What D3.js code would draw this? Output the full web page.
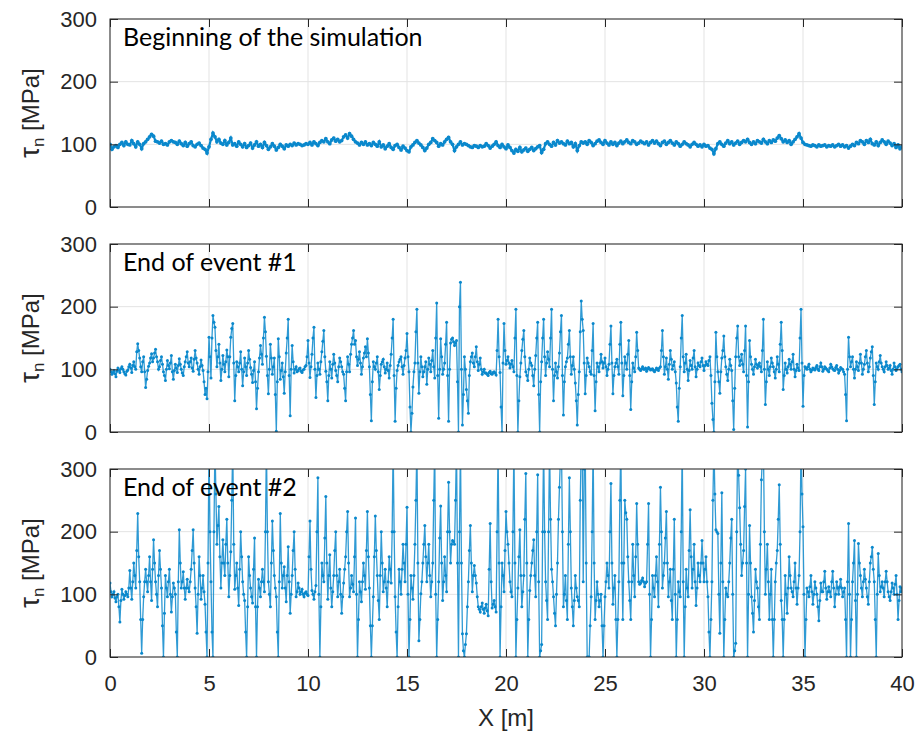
<!DOCTYPE html>
<html>
<head>
<meta charset="utf-8">
<script src="https://cdn.jsdelivr.net/npm/d3@7"></script>
<style>
  body { margin: 0; background: #fff; }
</style>
</head>
<body>
<script>
// shear stress along the fault, 0 to 40 m
// beginning: one value every 0.1 m
let start = [
  100, 92, 96, 98, 95, 100, 103, 98, 104, 100,
  99, 106, 101, 96, 104, 100, 93, 101, 104, 108,
  112, 116, 113, 105, 104, 102, 105, 100, 101, 99,
  104, 106, 104, 103, 100, 105, 101, 98, 103, 97,
  101, 104, 98, 96, 100, 102, 98, 94, 92, 86,
  96, 108, 118, 112, 104, 108, 102, 100, 106, 99,
  103, 110, 99, 101, 97, 104, 100, 96, 101, 95,
  98, 102, 94, 99, 104, 97, 100, 95, 103, 98,
  92, 96, 101, 97, 91, 95, 100, 97, 93, 99,
  97, 100, 98, 102, 99, 101, 100, 98, 99, 101,
  100, 103, 99, 104, 101, 98, 103, 106, 104, 109,
  104, 101, 107, 110, 105, 108, 104, 106, 112, 115,
  110, 117, 113, 108, 104, 102, 99, 103, 100, 104,
  99, 101, 98, 103, 100, 97, 104, 96, 99, 93,
  97, 101, 95, 92, 98, 100, 95, 91, 97, 94,
  90, 88, 96, 99, 103, 106, 102, 99, 95, 90,
  94, 100, 103, 109, 106, 103, 97, 101, 99, 104,
  108, 111, 104, 100, 90, 96, 100, 104, 99, 101,
  100, 98, 96, 95, 98, 97, 95, 98, 96, 97,
  101, 98, 94, 97, 100, 104, 98, 95, 100, 96,
  93, 99, 95, 90, 86, 92, 89, 95, 88, 91,
  94, 89, 92, 95, 90, 93, 96, 98, 87, 92,
  101, 104, 100, 97, 103, 99, 106, 102, 104, 101,
  99, 105, 101, 103, 96, 101, 90, 98, 104, 102,
  104, 100, 106, 103, 98, 101, 105, 107, 103, 100,
  106, 102, 99, 104, 100, 103, 98, 102, 105, 101,
  104, 107, 103, 101, 106, 104, 100, 102, 105, 103,
  101, 104, 99, 103, 106, 102, 105, 101, 98, 103,
  105, 100, 103, 106, 102, 99, 104, 101, 97, 100,
  104, 101, 99, 96, 100, 103, 100, 97, 99, 96,
  100, 97, 98, 94, 92, 85, 93, 101, 104, 100,
  97, 102, 106, 101, 104, 99, 102, 105, 100, 103,
  106, 104, 108, 103, 100, 104, 101, 106, 104, 102,
  108, 104, 101, 106, 103, 107, 105, 110, 114, 109,
  104, 107, 103, 106, 100, 104, 108, 112, 117, 110,
  103, 100, 99, 98, 97, 99, 98, 96, 99, 97,
  98, 99, 96, 98, 97, 99, 96, 98, 100, 97,
  99, 96, 98, 94, 97, 100, 98, 103, 101, 106,
  104, 100, 106, 103, 108, 101, 99, 104, 98, 103,
  107, 104, 100, 105, 102, 98, 101, 95, 99, 93,
  97
];

// end of event #1: one value every 0.05 m
let event1 = [
  100, 96, 92, 95, 98, 93, 88, 97, 102, 99, 95, 101, 104, 100, 96, 93, 91, 97, 99, 104,
  108, 102, 95, 106, 112, 104, 100, 128, 141, 130, 118, 104, 96, 112, 120, 96, 71, 84, 98, 105,
  110, 118, 125, 112, 118, 126, 132, 120, 112, 100, 104, 114, 120, 108, 96, 90, 82, 100, 114, 106,
  101, 110, 122, 96, 84, 98, 108, 102, 95, 106, 117, 108, 100, 94, 90, 104, 112, 120, 128, 110,
  104, 112, 118, 102, 97, 116, 130, 118, 110, 100, 92, 104, 115, 106, 98, 80, 60, 70, 53, 96,
  151, 120, 86, 150, 186, 175, 167, 130, 104, 120, 140, 110, 82, 100, 122, 108, 96, 112, 131, 120,
  88, 120, 151, 165, 173, 110, 50, 90, 112, 104, 96, 110, 128, 100, 74, 96, 118, 104, 90, 110,
  130, 116, 103, 92, 79, 98, 112, 80, 37, 70, 96, 118, 138, 124, 108, 150, 183, 160, 121, 90,
  61, 100, 140, 118, 92, 104, 118, 60, 1, 80, 149, 120, 84, 98, 110, 88, 62, 96, 126, 150,
  180, 90, 26, 100, 138, 112, 94, 100, 104, 96, 98, 101, 102, 97, 95, 99, 100, 104, 106, 120,
  146, 110, 87, 104, 124, 150, 167, 100, 55, 90, 110, 100, 92, 112, 128, 145, 162, 120, 97, 80,
  50, 90, 112, 100, 86, 108, 124, 110, 98, 90, 80, 104, 118, 112, 104, 96, 92, 70, 50, 96,
  120, 108, 96, 124, 140, 150, 162, 140, 146, 120, 106, 116, 128, 110, 92, 104, 118, 126, 136, 120,
  149, 126, 104, 60, 18, 80, 112, 104, 100, 110, 120, 96, 68, 90, 108, 112, 116, 104, 94, 100,
  110, 98, 86, 106, 124, 150, 180, 90, 17, 70, 98, 106, 112, 116, 120, 104, 92, 106, 118, 130,
  157, 120, 96, 40, 0, 30, 72, 96, 110, 160, 196, 110, 62, 96, 120, 104, 88, 96, 104, 112,
  76, 100, 118, 108, 96, 114, 130, 104, 86, 150, 206, 90, 22, 100, 149, 120, 92, 100, 110, 140,
  175, 90, 17, 100, 142, 148, 150, 144, 138, 142, 146, 80, 0, 200, 239, 100, 11, 60, 120, 100,
  68, 50, 30, 90, 112, 120, 126, 110, 104, 120, 136, 112, 98, 108, 118, 100, 92, 96, 100, 94,
  94, 92, 90, 95, 97, 93, 92, 95, 96, 94, 91, 130, 180, 120, 95, 40, 0, 110, 173, 130,
  108, 114, 120, 110, 102, 108, 114, 104, 96, 150, 196, 90, 0, 50, 88, 110, 130, 148, 162, 120,
  96, 90, 82, 100, 118, 110, 106, 90, 74, 100, 122, 150, 175, 60, 0, 80, 112, 150, 180, 120,
  90, 110, 128, 116, 104, 150, 196, 100, 50, 90, 110, 96, 86, 104, 126, 160, 186, 90, 27, 80,
  104, 112, 118, 140, 162, 120, 92, 106, 120, 100, 78, 50, 11, 60, 96, 160, 209, 180, 162, 110,
  61, 90, 118, 110, 104, 96, 92, 130, 173, 90, 34, 80, 110, 104, 96, 110, 124, 112, 102, 110,
  118, 104, 90, 100, 108, 140, 169, 110, 61, 90, 104, 110, 116, 104, 92, 140, 175, 110, 58, 90,
  120, 110, 100, 124, 146, 90, 36, 80, 110, 102, 96, 120, 159, 130, 102, 100, 98, 101, 104, 100,
  100, 102, 97, 100, 103, 101, 99, 100, 101, 98, 96, 99, 102, 100, 98, 102, 104, 130, 162, 120,
  92, 104, 118, 100, 84, 108, 130, 116, 100, 106, 112, 96, 78, 40, 17, 70, 104, 150, 186, 120,
  96, 110, 124, 100, 82, 98, 114, 106, 100, 118, 130, 104, 88, 100, 110, 106, 104, 112, 118, 106,
  98, 106, 112, 108, 106, 114, 120, 90, 46, 20, 0, 80, 159, 120, 96, 80, 62, 96, 118, 130,
  153, 120, 104, 92, 82, 100, 116, 106, 98, 50, 4, 70, 120, 150, 169, 120, 106, 114, 124, 108,
  96, 130, 169, 90, 8, 80, 146, 120, 108, 100, 92, 104, 116, 108, 102, 106, 110, 104, 96, 130,
  180, 100, 44, 80, 112, 100, 90, 104, 118, 110, 104, 96, 86, 100, 120, 108, 96, 140, 175, 130,
  68, 90, 110, 100, 94, 104, 116, 108, 100, 112, 124, 100, 88, 98, 108, 102, 98, 150, 196, 110,
  41, 90, 104, 102, 100, 104, 108, 100, 96, 99, 102, 100, 99, 103, 106, 100, 98, 104, 110, 104,
  97, 100, 104, 102, 100, 98, 96, 102, 108, 104, 101, 99, 98, 103, 106, 100, 94, 98, 103, 101,
  100, 96, 92, 60, 18, 100, 151, 120, 104, 112, 120, 100, 86, 100, 112, 104, 98, 110, 124, 110,
  92, 100, 108, 120, 130, 110, 96, 104, 118, 128, 136, 90, 44, 80, 110, 104, 100, 112, 122, 110,
  104, 100, 96, 104, 112, 106, 100, 102, 106, 98, 92, 100, 110, 104, 98, 101, 104, 106, 108, 100,
  96
];

// end of event #2: one value every 0.05 m, values above 300 run off the axes
let event2 = [
  118, 104, 96, 100, 104, 94, 88, 96, 100, 80, 56, 90, 108, 100, 92, 98, 104, 100, 96, 110,
  138, 110, 92, 120, 150, 130, 110, 170, 229, 160, 120, 60, 6, 60, 96, 120, 140, 120, 104, 130,
  160, 120, 90, 140, 187, 150, 120, 100, 80, 130, 170, 140, 110, 50, 0, 70, 130, 110, 96, 120,
  140, 100, 72, 96, 118, 110, 100, 40, 0, 120, 203, 150, 110, 120, 136, 110, 92, 110, 124, 110,
  104, 120, 140, 170, 203, 150, 110, 80, 38, 100, 160, 130, 92, 110, 130, 104, 84, 40, 0, 150,
  340, 200, 120, 40, 0, 200, 340, 260, 180, 210, 240, 160, 110, 150, 187, 150, 130, 180, 220, 150,
  96, 130, 168, 250, 340, 180, 108, 130, 150, 110, 82, 140, 200, 160, 120, 100, 90, 40, 0, 80,
  160, 130, 110, 96, 86, 140, 190, 80, 0, 80, 124, 110, 96, 120, 140, 120, 104, 200, 340, 200,
  120, 100, 80, 150, 217, 170, 130, 110, 96, 40, 0, 120, 229, 150, 110, 130, 144, 110, 88, 130,
  176, 120, 70, 100, 130, 170, 200, 140, 96, 104, 118, 110, 100, 104, 108, 100, 96, 102, 104, 100,
  98, 160, 217, 140, 106, 100, 92, 104, 114, 200, 286, 100, 0, 80, 150, 130, 120, 190, 256, 150,
  92, 130, 163, 110, 80, 104, 130, 170, 200, 130, 96, 120, 140, 100, 70, 96, 118, 140, 160, 200,
  232, 150, 96, 110, 130, 116, 104, 160, 222, 100, 0, 60, 120, 104, 88, 120, 150, 130, 108, 170,
  232, 160, 110, 50, 0, 50, 96, 160, 225, 170, 130, 90, 60, 130, 200, 150, 104, 120, 140, 110,
  80, 120, 160, 140, 118, 200, 340, 200, 96, 40, 0, 80, 140, 120, 100, 140, 180, 150, 120, 180,
  239, 100, 0, 60, 130, 110, 92, 130, 180, 250, 340, 150, 26, 60, 101, 120, 150, 180, 210, 160,
  120, 150, 180, 130, 96, 120, 150, 250, 340, 100, 0, 60, 120, 190, 241, 150, 90, 120, 160, 130,
  104, 200, 279, 200, 150, 180, 186, 184, 180, 250, 340, 150, 0, 200, 340, 150, 37, 10, 0, 20,
  37, 80, 120, 170, 210, 150, 104, 130, 146, 130, 118, 96, 80, 76, 72, 80, 86, 76, 70, 78,
  84, 74, 66, 140, 213, 120, 78, 84, 90, 80, 72, 200, 340, 150, 0, 80, 150, 130, 104, 170,
  232, 200, 180, 150, 120, 104, 96, 200, 340, 150, 0, 60, 110, 160, 203, 130, 80, 104, 130, 220,
  293, 150, 0, 60, 106, 130, 150, 170, 187, 130, 96, 200, 291, 120, 0, 10, 20, 200, 340, 200,
  120, 90, 60, 200, 340, 220, 140, 120, 96, 70, 50, 100, 150, 220, 271, 320, 340, 200, 80, 100,
  130, 90, 60, 180, 286, 200, 110, 80, 50, 90, 130, 110, 96, 90, 80, 250, 340, 340, 120, 300,
  340, 150, 0, 0, 0, 50, 96, 200, 340, 150, 60, 90, 120, 100, 80, 90, 100, 50, 0, 50,
  96, 120, 150, 130, 110, 200, 277, 150, 84, 110, 130, 60, 0, 60, 120, 250, 340, 150, 60, 150,
  250, 230, 220, 160, 120, 90, 60, 120, 180, 130, 96, 160, 245, 180, 120, 116, 118, 122, 126, 120,
  112, 118, 120, 180, 245, 100, 0, 60, 130, 110, 96, 130, 160, 120, 80, 180, 271, 200, 110, 130,
  150, 190, 232, 150, 96, 120, 140, 90, 60, 140, 220, 100, 0, 60, 120, 104, 96, 200, 340, 120,
  0, 80, 140, 110, 96, 170, 235, 160, 110, 140, 180, 120, 82, 110, 150, 130, 120, 150, 186, 150,
  120, 140, 160, 120, 96, 40, 0, 60, 120, 250, 340, 260, 203, 200, 197, 100, 38, 150, 262, 120,
  0, 60, 110, 100, 96, 120, 150, 190, 220, 100, 0, 10, 22, 200, 340, 290, 238, 180, 130, 150,
  170, 240, 300, 150, 0, 100, 210, 150, 96, 70, 40, 90, 140, 120, 110, 80, 60, 180, 283, 320,
  340, 200, 100, 140, 180, 120, 60, 100, 140, 60, 0, 60, 120, 150, 170, 220, 275, 180, 90, 60,
  0, 60, 130, 100, 70, 110, 160, 130, 110, 104, 96, 120, 150, 110, 84, 110, 130, 200, 340, 260,
  208, 100, 0, 60, 110, 104, 96, 112, 130, 104, 84, 100, 120, 110, 100, 80, 58, 90, 118, 104,
  104, 120, 137, 110, 92, 104, 112, 104, 96, 120, 137, 110, 80, 100, 120, 110, 100, 112, 124, 110,
  96, 104, 110, 60, 0, 120, 213, 100, 0, 60, 120, 150, 186, 90, 0, 100, 181, 150, 130, 110,
  96, 120, 140, 124, 110, 96, 84, 120, 150, 160, 175, 140, 120, 60, 0, 100, 165, 130, 104, 112,
  120, 110, 96, 120, 137, 120, 104, 96, 90, 104, 118, 110, 100, 116, 130, 100, 60, 90, 112, 104,
  110
];

let titles = ['Beginning of the simulation', 'End of event #1', 'End of event #2'];
let steps = [0.1, 0.05, 0.05];
let xTicks = [0, 5, 10, 15, 20, 25, 30, 35, 40];
let yTicks = [0, 100, 200, 300];

let width = 924;
let height = 733;
let svg = d3.select('body').append('svg')
            .attr('width', width)
            .attr('height', height);

let left = 110, right = 902, ph = 188;
let tops = [19, 244, 469];
let blue = '#0a88cc';
let axisColor = '#262626';
let tickFont = '"Liberation Sans", Arial, sans-serif';

let x = d3.scaleLinear().domain([0, 40]).range([left, right]);

[start, event1, event2].forEach((vals, k) => {
    let top = tops[k];
    let y = d3.scaleLinear().domain([0, 300]).range([top + ph, top]);
    let g = svg.append('g');

    // grid
    g.selectAll('line.gx').data(xTicks).enter()
     .append('line').attr('class', 'gx')
     .attr('x1', d => x(d)).attr('x2', d => x(d))
     .attr('y1', top).attr('y2', top + ph)
     .attr('stroke', '#e3e3e3').attr('stroke-width', 1);
    g.selectAll('line.gy').data(yTicks).enter()
     .append('line').attr('class', 'gy')
     .attr('x1', left).attr('x2', right)
     .attr('y1', d => y(d)).attr('y2', d => y(d))
     .attr('stroke', '#e3e3e3').attr('stroke-width', 1);

    // data
    svg.append('clipPath').attr('id', 'clip' + k)
       .append('rect').attr('x', left).attr('y', top)
       .attr('width', right - left).attr('height', ph);

    let pts = vals.map((v, i) => [i * steps[k], v]);
    let line = d3.line().x(d => x(d[0])).y(d => y(d[1]));
    let data = g.append('g').attr('clip-path', 'url(#clip' + k + ')');
    data.append('path').datum(pts)
        .attr('d', line)
        .attr('fill', 'none')
        .attr('stroke', blue)
        .attr('stroke-opacity', k == 0 ? 1 : 0.85)
        .attr('stroke-width', k == 0 ? 2.2 : 1.3);
    data.selectAll('circle').data(pts).enter()
        .append('circle')
        .attr('cx', d => x(d[0]))
        .attr('cy', d => y(d[1]))
        .attr('r', k == 0 ? 1.9 : 1.5)
        .attr('fill', blue);

    // axes, ticks pointing inward on all four sides
    let bottom = g.append('g').attr('transform', `translate(0,${top + ph})`)
        .call(d3.axisBottom(x).tickValues(xTicks).tickSizeInner(-8).tickSizeOuter(0)
              .tickPadding(18).tickFormat(k == 2 ? d3.format('d') : ''));
    let topAx = g.append('g').attr('transform', `translate(0,${top})`)
        .call(d3.axisTop(x).tickValues(xTicks).tickSizeInner(-8).tickSizeOuter(0).tickFormat(''));
    let leftAx = g.append('g').attr('transform', `translate(${left},0)`)
        .call(d3.axisLeft(y).tickValues(yTicks).tickSizeInner(-8).tickSizeOuter(0).tickPadding(13));
    let rightAx = g.append('g').attr('transform', `translate(${right},0)`)
        .call(d3.axisRight(y).tickValues(yTicks).tickSizeInner(-8).tickSizeOuter(0).tickFormat(''));

    [bottom, topAx, leftAx, rightAx].forEach(a => {
        a.select('.domain').remove();
        a.selectAll('line').attr('stroke', axisColor).attr('stroke-width', 1);
        a.selectAll('text').attr('fill', axisColor)
         .attr('font-family', tickFont).attr('font-size', 22);
    });

    g.append('rect')
     .attr('x', left).attr('y', top)
     .attr('width', right - left).attr('height', ph)
     .attr('fill', 'none').attr('stroke', axisColor).attr('stroke-width', 1);

    // title inside the axes
    g.append('text')
     .attr('x', 123).attr('y', top + 27)
     .attr('font-family', 'Lato, "Open Sans", sans-serif')
     .attr('font-size', 25)
     .attr('fill', '#000')
     .text(titles[k]);

    // y label
    let yl = g.append('text')
     .attr('transform', `translate(39,${top + ph / 2}) rotate(-90)`)
     .attr('text-anchor', 'middle')
     .attr('font-family', tickFont)
     .attr('font-size', 24)
     .attr('fill', axisColor);
    yl.append('tspan').attr('font-size', 27).text('τ');
    yl.append('tspan').attr('font-size', 17).attr('dy', 5).text('n');
    yl.append('tspan').attr('dy', -5).text(' [MPa]');
});

svg.append('text')
   .attr('x', (left + right) / 2).attr('y', 726)
   .attr('text-anchor', 'middle')
   .attr('font-family', tickFont)
   .attr('font-size', 24)
   .attr('fill', axisColor)
   .text('X [m]');
</script>
</body>
</html>
